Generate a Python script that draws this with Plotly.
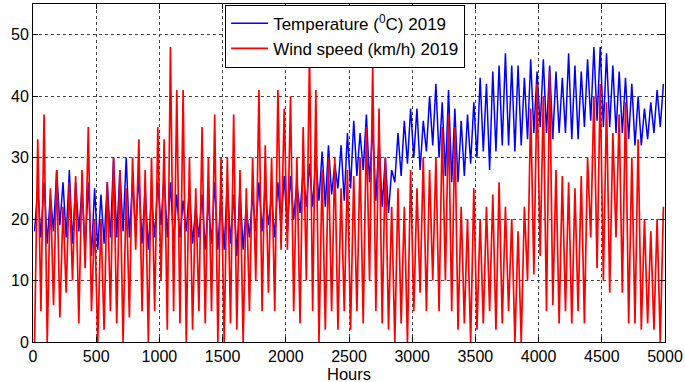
import plotly.graph_objects as go

# 50-hour blocks (0-50, 50-100, ... 4950-5000)
block_hours = 50

temp_high = [25, 26, 24, 28, 26, 28, 26, 25, 26, 25,
             24, 26, 30, 28, 30, 26, 27, 25, 24, 26,
             27, 26, 24, 23, 25, 22, 24, 23, 26, 24,
             26, 24, 25, 22, 24, 26, 25, 24, 26, 27,
             27, 26, 28, 29, 30, 31, 32, 29, 32, 34,
             36, 34, 37, 35, 33, 30, 28, 34, 36, 38,
             38, 36, 40, 42, 39, 41, 38, 36, 37, 39,
             43, 42, 44, 45, 47, 45, 45, 43, 46, 44,
             46, 45, 44, 43, 47, 45, 44, 46, 48, 48,
             47, 45, 44, 43, 42, 40, 38, 39, 41, 42]
temp_low = [18, 17, 16, 18, 19, 17, 16, 18, 15, 14,
            15, 16, 17, 17, 18, 17, 18, 16, 15, 17,
            19, 17, 16, 17, 18, 16, 17, 15, 16, 15,
            15, 16, 14, 15, 17, 18, 18, 19, 17, 19,
            18, 20, 21, 22, 22, 23, 22, 24, 25, 23,
            25, 27, 28, 26, 23, 22, 21, 26, 27, 29,
            30, 28, 31, 32, 30, 27, 26, 26, 27, 29,
            30, 31, 28, 31, 32, 32, 31, 32, 33, 34,
            35, 34, 33, 34, 34, 33, 33, 35, 36, 36,
            35, 35, 34, 34, 33, 32, 32, 33, 34, 35]

wind_peak = [33, 37, 25, 28, 22, 26, 27, 28, 35, 20,
             20, 26, 30, 28, 25, 30, 33, 28, 30, 35,
             33, 48, 41, 41, 30, 25, 35, 30, 37, 30,
             30, 37, 28, 25, 30, 41, 32, 30, 41, 38,
             40, 30, 35, 47, 41, 28, 30, 30, 25, 28,
             27, 30, 35, 45, 38, 30, 22, 25, 22, 28,
             25, 30, 28, 30, 35, 37, 35, 22, 20, 25,
             20, 22, 24, 26, 22, 20, 18, 22, 38, 42,
             40, 44, 28, 27, 26, 25, 27, 30, 40, 42,
             39, 34, 37, 39, 30, 33, 20, 18, 20, 22]
wind_low = [0, 5, 0, 6, 4, 8, 10, 3, 12, 5,
            0, 2, 5, 3, 0, 4, 15, 5, 0, 5,
            10, 2, 5, 3, 0, 2, 5, 3, 5, 0,
            0, 3, 2, 0, 5, 10, 5, 8, 5, 15,
            15, 5, 3, 10, 5, 0, 2, 5, 2, 5,
            2, 5, 3, 10, 5, 3, 2, 0, 3, 0,
            5, 8, 5, 10, 5, 10, 5, 2, 3, 0,
            2, 3, 5, 2, 3, 5, 0, 0, 10, 11,
            14, 5, 6, 3, 5, 3, 5, 3, 17, 12,
            10, 8, 17, 8, 3, 3, 2, 3, 2, 0]

x_ticks = list(range(0, 5001, 500))
y_ticks = list(range(0, 51, 10))
x_title = "Hours"


def zigzag(lows, highs):
    xs, ys = [], []
    for i, (lo, hi) in enumerate(zip(lows, highs)):
        xs += [i * block_hours + 12.5, i * block_hours + 37.5]
        ys += [lo, hi]
    return xs, ys


tx, ty = zigzag(temp_low, temp_high)
wx, wy = zigzag(wind_low, wind_peak)

font = "Liberation Sans, Arial, sans-serif"

fig = go.Figure()
fig.add_trace(go.Scatter(x=tx, y=ty, mode="lines", name="Temperature (<sup>0</sup>C) 2019",
                         line=dict(color="#0000FF", width=1.5)))
fig.add_trace(go.Scatter(x=wx, y=wy, mode="lines", name="Wind speed (km/h) 2019",
                         line=dict(color="#FF0000", width=1.7)))

axis_common = dict(showline=True, linecolor="black", linewidth=1, mirror="ticks",
                   ticks="inside", ticklen=5, tickcolor="black", automargin=False,
                   showgrid=True, gridcolor="#444444", gridwidth=1, griddash="dot",
                   zeroline=False, tickfont=dict(family=font, size=16, color="black"))

fig.update_layout(
    width=685, height=382,
    margin=dict(l=33, r=20, t=4, b=40, autoexpand=False),
    paper_bgcolor="white", plot_bgcolor="white",
    showlegend=True,
    legend=dict(x=0.304, y=0.998, xanchor="left", yanchor="top",
                bgcolor="white", bordercolor="black", borderwidth=1,
                font=dict(family=font, size=17, color="black"),
                itemwidth=37, tracegroupgap=0),
    xaxis=dict(range=[0, 5000], tickvals=x_ticks, **axis_common),
    yaxis=dict(range=[0, 55], tickvals=y_ticks, **axis_common),
    annotations=[dict(text=x_title, xref="paper", yref="paper", x=0.5, y=-0.096,
                      xanchor="center", yanchor="middle", showarrow=False, borderpad=0,
                      font=dict(family=font, size=16.5, color="black"))],
)

fig.write_html("out.html", config={"displayModeBar": False},
               post_script="document.body.style.margin='0';")
